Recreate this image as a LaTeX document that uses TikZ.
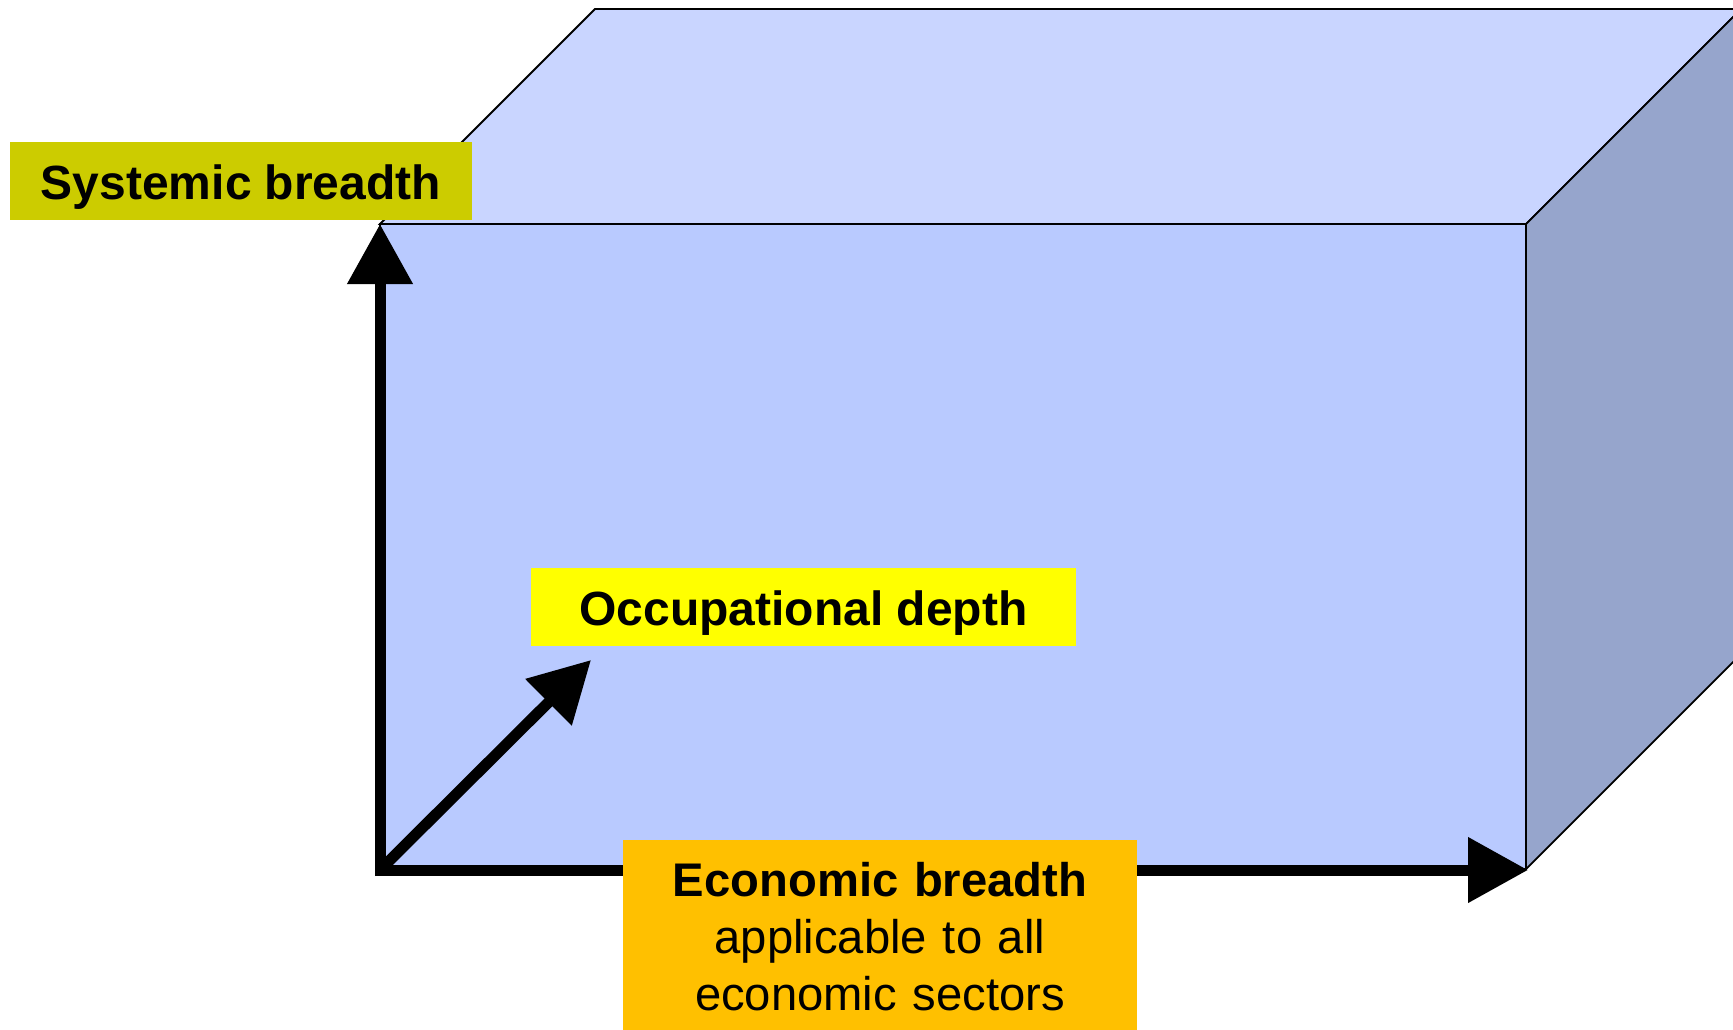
\documentclass[tikz,border=0pt]{standalone}
\usepackage{fontspec}
\setmainfont{Liberation Sans}
\usetikzlibrary{arrows.meta}
\definecolor{topface}{RGB}{201,213,255}
\definecolor{frontface}{RGB}{185,202,255}
\definecolor{sideface}{RGB}{150,165,204}
\definecolor{sysfill}{RGB}{204,204,0}
\definecolor{occfill}{RGB}{255,255,0}
\definecolor{ecofill}{RGB}{255,192,0}
\begin{document}
\begin{tikzpicture}[x=0.5pt,y=-0.5pt,
  face/.style={draw=black,line width=0.9pt,line join=miter},
  axis/.style={line width=5.5pt,-{Triangle[length=30pt,width=31.5pt]}},
  tag/.style={inner sep=0pt,text height=18.5pt,text depth=0pt,
    minimum height=39pt,font=\fontsize{24}{28.5}\selectfont\bfseries}]
\clip (0,0) rectangle (1733,1029);
\fill[white] (0,0) rectangle (1733,1029);

% cube corners (front face and the receding back edges)
\coordinate (ftl) at (380,224);
\coordinate (ftr) at (1526,224);
\coordinate (fbr) at (1526,869);
\coordinate (fbl) at (380,869);
\coordinate (btl) at (595,9);
\coordinate (btr) at (1741,9);
\coordinate (bbr) at (1741,654);

% faces of the box
\filldraw[face,fill=topface] (ftl) -- (btl) -- (btr) -- (ftr) -- cycle;
\filldraw[face,fill=sideface] (ftr) -- (btr) -- (bbr) -- (fbr) -- cycle;
\filldraw[face,fill=frontface] (ftl) -- (ftr) -- (fbr) -- (fbl) -- cycle;

% the three axes
\coordinate (vstart) at (380,876);
\coordinate (hstart) at (375,870);
\coordinate (htip) at (1528,870);
\coordinate (dstart) at (384,866);
\coordinate (dtip) at (591,660);
\draw[axis] (vstart) -- (ftl);
\draw[axis] (hstart) -- (htip);
\draw[axis] (dstart) -- (dtip);

% axis labels
\node[tag,fill=sysfill,minimum width=231pt] (sys) at (241,181) {Systemic breadth};
\node[tag,fill=occfill,minimum width=272.5pt] (occ) at (803.5,607) {Occupational depth};
\node[fill=ecofill,anchor=north,inner xsep=0pt,inner ysep=11pt,
  text width=257pt,align=center,font=\fontsize{23.6}{28.5}\selectfont] (eco) at (880,840)
  {{\bfseries Economic breadth}\\applicable to all\\economic sectors};
\end{tikzpicture}
\end{document}
